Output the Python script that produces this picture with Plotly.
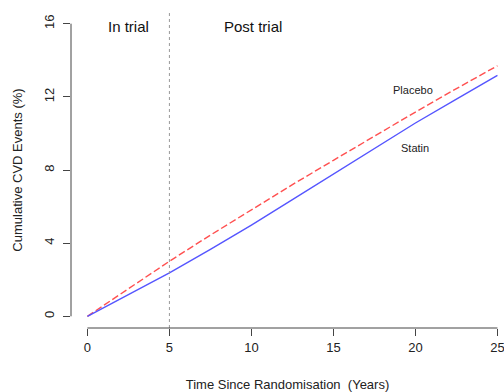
import plotly.graph_objects as go

years = [0, 2.5, 5, 7.5, 10, 12.5, 15, 17.5, 20, 22.5, 25]
placebo = [0, 1.53, 3.01, 4.44, 5.84, 7.20, 8.53, 9.86, 11.17, 12.45, 13.70]
statin = [0, 1.17, 2.37, 3.66, 4.99, 6.38, 7.78, 9.18, 10.57, 11.88, 13.17]
x_ticks = [0, 5, 10, 15, 20, 25]
y_ticks = [0, 4, 8, 12, 16]

font = "Liberation Sans, Arial, sans-serif"
axcol = "#444444"

fig = go.Figure()
fig.add_trace(go.Scatter(x=years, y=placebo, mode="lines", name="Placebo",
                         line=dict(color="rgb(255,80,80)", width=1.4, dash="7px,3px")))
fig.add_trace(go.Scatter(x=years, y=statin, mode="lines", name="Statin",
                         line=dict(color="rgb(85,85,255)", width=1.4)))

# trial boundary
fig.add_shape(type="line", xref="x", yref="paper", x0=5, x1=5, y0=0, y1=1,
              line=dict(color="#999999", width=1, dash="dot"))
# R-style axis lines
fig.add_shape(type="line", xref="x", yref="paper", x0=0, x1=25, y0=0, y1=0,
              line=dict(color=axcol, width=1))
fig.add_shape(type="line", xref="paper", yref="y", x0=0, x1=0, y0=0, y1=16,
              line=dict(color=axcol, width=1))

fig.add_annotation(x=2.5, y=16, xref="x", yref="y", text="In trial", showarrow=False,
                   font=dict(size=15, color="#111111", family=font), yshift=-3)
fig.add_annotation(x=10.1, y=16, xref="x", yref="y", text="Post trial", showarrow=False,
                   font=dict(size=15, color="#111111", family=font), yshift=-3)
fig.add_annotation(x=19.85, y=12.4, xref="x", yref="y", text="Placebo", showarrow=False,
                   font=dict(size=11, color="#222222", family=font))
fig.add_annotation(x=19.95, y=9.2, xref="x", yref="y", text="Statin", showarrow=False,
                   font=dict(size=11, color="#222222", family=font))

fig.update_layout(
    width=504, height=392,
    margin=dict(l=71, r=0, t=12, b=64),
    paper_bgcolor="white", plot_bgcolor="white",
    showlegend=False,
    font=dict(family=font, color="#222222"),
    xaxis=dict(range=[-1, 25.4], tickvals=x_ticks, ticks="outside", ticklen=7,
               tickcolor=axcol, showgrid=False, zeroline=False, showline=False,
               ticklabeloverflow="allow",
               tickfont=dict(size=13, color="#222222"),
               title=dict(text="Time Since Randomisation  (Years)", font=dict(size=13),
                          standoff=26)),
    yaxis=dict(range=[-0.64, 16.64], tickvals=y_ticks, ticks="outside", ticklen=7,
               tickcolor=axcol, showgrid=False, zeroline=False, showline=False,
               tickangle=-90, tickfont=dict(size=13, color="#222222"),
               ticklabelstandoff=4,
               title=dict(text="Cumulative CVD Events (%)", font=dict(size=13),
                          standoff=16)),
)

fig.write_html("out.html")
